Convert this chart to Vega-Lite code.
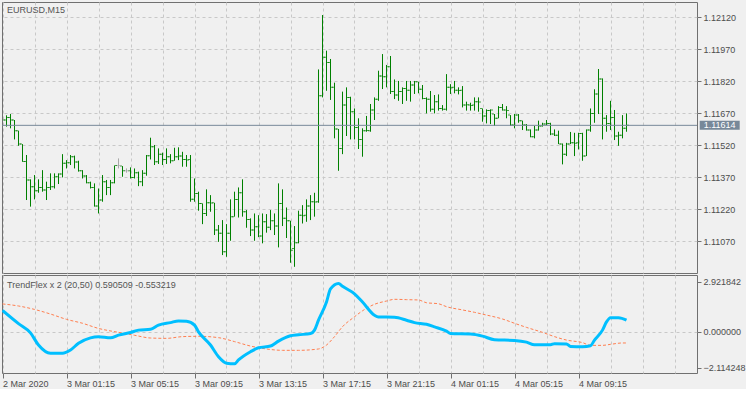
{
  "$schema": "https://vega.github.io/schema/vega-lite/v6.json",
  "background": "#f0f0f0",
  "padding": {"left": 1, "top": 1, "right": 0, "bottom": 0},
  "autosize": {"type": "pad"},
  "spacing": 2,
  "bounds": "flush",
  "config": {
    "view": {"stroke": "#707070", "strokeWidth": 1},
    "font": "Liberation Sans",
    "axis": {"labelFont": "Liberation Sans", "labelFontSize": 9, "labelColor": "#4d4d4d", "gridColor": "#c8c8c8", "gridDash": [3, 3], "gridWidth": 1, "tickColor": "#707070", "domain": false, "labelOverlap": false}
  },
  "datasets": {
    "bars": [
      {"t":"2020-03-02T21:15Z","c":1.11639},
      {"t":"2020-03-02T21:30Z","o":1.11639,"h":1.11661,"l":1.11608,"c":1.11651},
      {"t":"2020-03-02T21:45Z","o":1.11651,"h":1.11667,"l":1.11600,"c":1.11639},
      {"t":"2020-03-02T22:00Z","o":1.11639,"h":1.11639,"l":1.11548,"c":1.11589},
      {"t":"2020-03-02T22:15Z","o":1.11589,"h":1.11589,"l":1.11518,"c":1.11526},
      {"t":"2020-03-02T22:30Z","o":1.11526,"h":1.11526,"l":1.11443,"c":1.11445},
      {"t":"2020-03-02T22:45Z","o":1.11445,"h":1.11475,"l":1.11264,"c":1.11358},
      {"t":"2020-03-02T23:00Z","o":1.11358,"h":1.11361,"l":1.11233,"c":1.11326},
      {"t":"2020-03-02T23:15Z","o":1.11326,"h":1.11381,"l":1.11267,"c":1.11308},
      {"t":"2020-03-02T23:30Z","o":1.11308,"h":1.11361,"l":1.11298,"c":1.11323},
      {"t":"2020-03-02T23:45Z","o":1.11323,"h":1.11404,"l":1.11303,"c":1.11311},
      {"t":"2020-03-03T00:00Z","o":1.11311,"h":1.11350,"l":1.11264,"c":1.11323},
      {"t":"2020-03-03T00:15Z","o":1.11323,"h":1.11389,"l":1.11311,"c":1.11326},
      {"t":"2020-03-03T00:30Z","o":1.11326,"h":1.11389,"l":1.11318,"c":1.11373},
      {"t":"2020-03-03T00:45Z","o":1.11373,"h":1.11389,"l":1.11339,"c":1.11386},
      {"t":"2020-03-03T01:00Z","o":1.11386,"h":1.11479,"l":1.11370,"c":1.11436},
      {"t":"2020-03-03T01:15Z","o":1.11436,"h":1.11451,"l":1.11412,"c":1.11439},
      {"t":"2020-03-03T01:30Z","o":1.11439,"h":1.11475,"l":1.11428,"c":1.11467},
      {"t":"2020-03-03T01:45Z","o":1.11467,"h":1.11472,"l":1.11412,"c":1.11442},
      {"t":"2020-03-03T02:00Z","o":1.11442,"h":1.11448,"l":1.11397,"c":1.11401},
      {"t":"2020-03-03T02:15Z","o":1.11401,"h":1.11404,"l":1.11365,"c":1.11376},
      {"t":"2020-03-03T02:30Z","o":1.11376,"h":1.11381,"l":1.11342,"c":1.11345},
      {"t":"2020-03-03T02:45Z","o":1.11345,"h":1.11350,"l":1.11318,"c":1.11323},
      {"t":"2020-03-03T03:00Z","o":1.11323,"h":1.11342,"l":1.11233,"c":1.11236},
      {"t":"2020-03-03T03:15Z","o":1.11236,"h":1.11318,"l":1.11201,"c":1.11264},
      {"t":"2020-03-03T03:30Z","o":1.11264,"h":1.11381,"l":1.11256,"c":1.11350},
      {"t":"2020-03-03T03:45Z","o":1.11350,"h":1.11358,"l":1.11287,"c":1.11323},
      {"t":"2020-03-03T04:00Z","o":1.11323,"h":1.11358,"l":1.11287,"c":1.11345},
      {"t":"2020-03-03T04:15Z","o":1.11345,"h":1.11426,"l":1.11342,"c":1.11426},
      {"t":"2020-03-03T04:30Z","o":1.11426,"h":1.11459,"l":1.11412,"c":1.11426,"k":"flat"},
      {"t":"2020-03-03T04:45Z","o":1.11423,"h":1.11423,"l":1.11373,"c":1.11401},
      {"t":"2020-03-03T05:00Z","o":1.11401,"h":1.11412,"l":1.11392,"c":1.11401,"k":"flat"},
      {"t":"2020-03-03T05:15Z","o":1.11401,"h":1.11417,"l":1.11365,"c":1.11370},
      {"t":"2020-03-03T05:30Z","o":1.11370,"h":1.11412,"l":1.11365,"c":1.11392},
      {"t":"2020-03-03T05:45Z","o":1.11392,"h":1.11397,"l":1.11329,"c":1.11350},
      {"t":"2020-03-03T06:00Z","o":1.11350,"h":1.11404,"l":1.11329,"c":1.11389},
      {"t":"2020-03-03T06:15Z","o":1.11389,"h":1.11475,"l":1.11378,"c":1.11472},
      {"t":"2020-03-03T06:30Z","o":1.11472,"h":1.11556,"l":1.11454,"c":1.11514},
      {"t":"2020-03-03T06:45Z","o":1.11514,"h":1.11522,"l":1.11428,"c":1.11443},
      {"t":"2020-03-03T07:00Z","o":1.11443,"h":1.11506,"l":1.11433,"c":1.11479},
      {"t":"2020-03-03T07:15Z","o":1.11479,"h":1.11486,"l":1.11428,"c":1.11454},
      {"t":"2020-03-03T07:30Z","o":1.11454,"h":1.11506,"l":1.11433,"c":1.11467},
      {"t":"2020-03-03T07:45Z","o":1.11467,"h":1.11479,"l":1.11436,"c":1.11448},
      {"t":"2020-03-03T08:00Z","o":1.11448,"h":1.11509,"l":1.11448,"c":1.11467},
      {"t":"2020-03-03T08:15Z","o":1.11467,"h":1.11511,"l":1.11451,"c":1.11470},
      {"t":"2020-03-03T08:30Z","o":1.11470,"h":1.11490,"l":1.11420,"c":1.11454},
      {"t":"2020-03-03T08:45Z","o":1.11454,"h":1.11475,"l":1.11420,"c":1.11452},
      {"t":"2020-03-03T09:00Z","o":1.11454,"h":1.11475,"l":1.11256,"c":1.11268},
      {"t":"2020-03-03T09:15Z","o":1.11268,"h":1.11365,"l":1.11256,"c":1.11295},
      {"t":"2020-03-03T09:30Z","o":1.11295,"h":1.11303,"l":1.11214,"c":1.11248},
      {"t":"2020-03-03T09:45Z","o":1.11248,"h":1.11248,"l":1.11151,"c":1.11201},
      {"t":"2020-03-03T10:00Z","o":1.11201,"h":1.11314,"l":1.11189,"c":1.11251},
      {"t":"2020-03-03T10:15Z","o":1.11251,"h":1.11287,"l":1.11209,"c":1.11250},
      {"t":"2020-03-03T10:30Z","o":1.11251,"h":1.11251,"l":1.11100,"c":1.11123},
      {"t":"2020-03-03T10:45Z","o":1.11123,"h":1.11147,"l":1.11068,"c":1.11108},
      {"t":"2020-03-03T11:00Z","o":1.11108,"h":1.11170,"l":1.11006,"c":1.11022},
      {"t":"2020-03-03T11:15Z","o":1.11022,"h":1.11151,"l":1.10998,"c":1.11108},
      {"t":"2020-03-03T11:30Z","o":1.11108,"h":1.11267,"l":1.11073,"c":1.11186},
      {"t":"2020-03-03T11:45Z","o":1.11186,"h":1.11303,"l":1.11186,"c":1.11267},
      {"t":"2020-03-03T12:00Z","o":1.11267,"h":1.11323,"l":1.11182,"c":1.11298},
      {"t":"2020-03-03T12:15Z","o":1.11298,"h":1.11361,"l":1.11186,"c":1.11209},
      {"t":"2020-03-03T12:30Z","o":1.11209,"h":1.11217,"l":1.11134,"c":1.11173},
      {"t":"2020-03-03T12:45Z","o":1.11173,"h":1.11178,"l":1.11095,"c":1.11123},
      {"t":"2020-03-03T13:00Z","o":1.11123,"h":1.11201,"l":1.11073,"c":1.11139},
      {"t":"2020-03-03T13:15Z","o":1.11139,"h":1.11193,"l":1.11090,"c":1.11095},
      {"t":"2020-03-03T13:30Z","o":1.11095,"h":1.11201,"l":1.11061,"c":1.11162},
      {"t":"2020-03-03T13:45Z","o":1.11162,"h":1.11198,"l":1.11111,"c":1.11136},
      {"t":"2020-03-03T14:00Z","o":1.11136,"h":1.11217,"l":1.11123,"c":1.11167},
      {"t":"2020-03-03T14:15Z","o":1.11167,"h":1.11201,"l":1.11100,"c":1.11142},
      {"t":"2020-03-03T14:30Z","o":1.11142,"h":1.11342,"l":1.11042,"c":1.11248},
      {"t":"2020-03-03T14:45Z","o":1.11248,"h":1.11314,"l":1.11142,"c":1.11178},
      {"t":"2020-03-03T15:00Z","o":1.11178,"h":1.11229,"l":1.11086,"c":1.11167},
      {"t":"2020-03-03T15:15Z","o":1.11167,"h":1.11167,"l":1.10970,"c":1.11029},
      {"t":"2020-03-03T15:30Z","o":1.11037,"h":1.11142,"l":1.10951,"c":1.11064},
      {"t":"2020-03-03T15:45Z","o":1.11064,"h":1.11214,"l":1.11061,"c":1.11193},
      {"t":"2020-03-03T16:00Z","o":1.11193,"h":1.11240,"l":1.11154,"c":1.11190},
      {"t":"2020-03-03T16:15Z","o":1.11193,"h":1.11267,"l":1.11162,"c":1.11236},
      {"t":"2020-03-03T16:30Z","o":1.11236,"h":1.11287,"l":1.11170,"c":1.11256},
      {"t":"2020-03-03T16:45Z","o":1.11256,"h":1.11298,"l":1.11186,"c":1.11255},
      {"t":"2020-03-03T17:00Z","o":1.11256,"h":1.11876,"l":1.11251,"c":1.11753},
      {"t":"2020-03-03T17:15Z","o":1.11753,"h":1.12131,"l":1.11745,"c":1.11933},
      {"t":"2020-03-03T17:30Z","o":1.11933,"h":1.11964,"l":1.11776,"c":1.11909},
      {"t":"2020-03-03T17:45Z","o":1.11909,"h":1.11925,"l":1.11733,"c":1.11792},
      {"t":"2020-03-03T18:00Z","o":1.11792,"h":1.11814,"l":1.11553,"c":1.11597},
      {"t":"2020-03-03T18:15Z","o":1.11597,"h":1.11597,"l":1.11401,"c":1.11506},
      {"t":"2020-03-03T18:30Z","o":1.11506,"h":1.11772,"l":1.11479,"c":1.11709},
      {"t":"2020-03-03T18:45Z","o":1.11709,"h":1.11792,"l":1.11564,"c":1.11745},
      {"t":"2020-03-03T19:00Z","o":1.11745,"h":1.11748,"l":1.11548,"c":1.11678},
      {"t":"2020-03-03T19:15Z","o":1.11678,"h":1.11693,"l":1.11548,"c":1.11604},
      {"t":"2020-03-03T19:30Z","o":1.11604,"h":1.11647,"l":1.11503,"c":1.11548},
      {"t":"2020-03-03T19:45Z","o":1.11548,"h":1.11600,"l":1.11467,"c":1.11589},
      {"t":"2020-03-03T20:00Z","o":1.11589,"h":1.11658,"l":1.11584,"c":1.11590},
      {"t":"2020-03-03T20:15Z","o":1.11589,"h":1.11714,"l":1.11584,"c":1.11686},
      {"t":"2020-03-03T20:30Z","o":1.11686,"h":1.11745,"l":1.11639,"c":1.11736},
      {"t":"2020-03-03T20:45Z","o":1.11736,"h":1.11870,"l":1.11729,"c":1.11845},
      {"t":"2020-03-03T21:00Z","o":1.11845,"h":1.11948,"l":1.11784,"c":1.11842},
      {"t":"2020-03-03T21:15Z","o":1.11842,"h":1.11897,"l":1.11792,"c":1.11889},
      {"t":"2020-03-03T21:30Z","o":1.11889,"h":1.11939,"l":1.11761,"c":1.11772},
      {"t":"2020-03-03T21:45Z","o":1.11772,"h":1.11829,"l":1.11737,"c":1.11756},
      {"t":"2020-03-03T22:00Z","o":1.11756,"h":1.11822,"l":1.11729,"c":1.11772},
      {"t":"2020-03-03T22:15Z","o":1.11772,"h":1.11792,"l":1.11714,"c":1.11787},
      {"t":"2020-03-03T22:30Z","o":1.11787,"h":1.11822,"l":1.11729,"c":1.11779},
      {"t":"2020-03-03T22:45Z","o":1.11779,"h":1.11822,"l":1.11725,"c":1.11803},
      {"t":"2020-03-03T23:00Z","o":1.11803,"h":1.11822,"l":1.11761,"c":1.11818},
      {"t":"2020-03-03T23:15Z","o":1.11818,"h":1.11818,"l":1.11764,"c":1.11783},
      {"t":"2020-03-03T23:30Z","o":1.11783,"h":1.11803,"l":1.11736,"c":1.11740},
      {"t":"2020-03-03T23:45Z","o":1.11740,"h":1.11745,"l":1.11670,"c":1.11736},
      {"t":"2020-03-04T00:00Z","o":1.11736,"h":1.11775,"l":1.11678,"c":1.11689},
      {"t":"2020-03-04T00:15Z","o":1.11689,"h":1.11756,"l":1.11670,"c":1.11725},
      {"t":"2020-03-04T00:30Z","o":1.11725,"h":1.11759,"l":1.11683,"c":1.11693},
      {"t":"2020-03-04T00:45Z","o":1.11693,"h":1.11709,"l":1.11683,"c":1.11689},
      {"t":"2020-03-04T01:00Z","o":1.11689,"h":1.11854,"l":1.11683,"c":1.11792},
      {"t":"2020-03-04T01:15Z","o":1.11792,"h":1.11807,"l":1.11761,"c":1.11790},
      {"t":"2020-03-04T01:30Z","o":1.11792,"h":1.11822,"l":1.11764,"c":1.11779},
      {"t":"2020-03-04T01:45Z","o":1.11779,"h":1.11792,"l":1.11759,"c":1.11777},
      {"t":"2020-03-04T02:00Z","o":1.11779,"h":1.11798,"l":1.11698,"c":1.11709},
      {"t":"2020-03-04T02:15Z","o":1.11709,"h":1.11725,"l":1.11683,"c":1.11711},
      {"t":"2020-03-04T02:30Z","o":1.11709,"h":1.11720,"l":1.11683,"c":1.11707},
      {"t":"2020-03-04T02:45Z","o":1.11709,"h":1.11745,"l":1.11683,"c":1.11725},
      {"t":"2020-03-04T03:00Z","o":1.11725,"h":1.11745,"l":1.11678,"c":1.11723},
      {"t":"2020-03-04T03:15Z","o":1.11693,"h":1.11693,"l":1.11631,"c":1.11658},
      {"t":"2020-03-04T03:30Z","o":1.11658,"h":1.11689,"l":1.11623,"c":1.11683},
      {"t":"2020-03-04T03:45Z","o":1.11683,"h":1.11689,"l":1.11620,"c":1.11686},
      {"t":"2020-03-04T04:00Z","o":1.11667,"h":1.11667,"l":1.11611,"c":1.11647},
      {"t":"2020-03-04T04:15Z","o":1.11647,"h":1.11704,"l":1.11647,"c":1.11698},
      {"t":"2020-03-04T04:30Z","o":1.11698,"h":1.11714,"l":1.11683,"c":1.11686},
      {"t":"2020-03-04T04:45Z","o":1.11686,"h":1.11704,"l":1.11647,"c":1.11684},
      {"t":"2020-03-04T05:00Z","o":1.11662,"h":1.11662,"l":1.11611,"c":1.11615},
      {"t":"2020-03-04T05:15Z","o":1.11615,"h":1.11667,"l":1.11600,"c":1.11662},
      {"t":"2020-03-04T05:30Z","o":1.11662,"h":1.11667,"l":1.11626,"c":1.11636},
      {"t":"2020-03-04T05:45Z","o":1.11636,"h":1.11636,"l":1.11592,"c":1.11615},
      {"t":"2020-03-04T06:00Z","o":1.11615,"h":1.11620,"l":1.11589,"c":1.11592},
      {"t":"2020-03-04T06:15Z","o":1.11592,"h":1.11595,"l":1.11558,"c":1.11561},
      {"t":"2020-03-04T06:30Z","o":1.11561,"h":1.11611,"l":1.11553,"c":1.11592},
      {"t":"2020-03-04T06:45Z","o":1.11592,"h":1.11636,"l":1.11589,"c":1.11611},
      {"t":"2020-03-04T07:00Z","o":1.11611,"h":1.11626,"l":1.11608,"c":1.11620},
      {"t":"2020-03-04T07:15Z","o":1.11620,"h":1.11639,"l":1.11615,"c":1.11623},
      {"t":"2020-03-04T07:30Z","o":1.11623,"h":1.11626,"l":1.11568,"c":1.11573},
      {"t":"2020-03-04T07:45Z","o":1.11573,"h":1.11595,"l":1.11564,"c":1.11568},
      {"t":"2020-03-04T08:00Z","o":1.11568,"h":1.11589,"l":1.11526,"c":1.11526},
      {"t":"2020-03-04T08:15Z","o":1.11526,"h":1.11529,"l":1.11431,"c":1.11479},
      {"t":"2020-03-04T08:30Z","o":1.11479,"h":1.11532,"l":1.11470,"c":1.11526},
      {"t":"2020-03-04T08:45Z","o":1.11526,"h":1.11583,"l":1.11526,"c":1.11532},
      {"t":"2020-03-04T09:00Z","o":1.11532,"h":1.11579,"l":1.11470,"c":1.11530},
      {"t":"2020-03-04T09:15Z","o":1.11532,"h":1.11579,"l":1.11501,"c":1.11576},
      {"t":"2020-03-04T09:30Z","o":1.11576,"h":1.11579,"l":1.11448,"c":1.11470},
      {"t":"2020-03-04T09:45Z","o":1.11470,"h":1.11595,"l":1.11470,"c":1.11592},
      {"t":"2020-03-04T10:00Z","o":1.11592,"h":1.11693,"l":1.11584,"c":1.11670},
      {"t":"2020-03-04T10:15Z","o":1.11670,"h":1.11783,"l":1.11626,"c":1.11761},
      {"t":"2020-03-04T10:30Z","o":1.11761,"h":1.11878,"l":1.11667,"c":1.11831},
      {"t":"2020-03-04T10:45Z","o":1.11831,"h":1.11834,"l":1.11548,"c":1.11647},
      {"t":"2020-03-04T11:00Z","o":1.11647,"h":1.11662,"l":1.11584,"c":1.11623},
      {"t":"2020-03-04T11:15Z","o":1.11623,"h":1.11729,"l":1.11592,"c":1.11651},
      {"t":"2020-03-04T11:30Z","o":1.11651,"h":1.11686,"l":1.11545,"c":1.11564},
      {"t":"2020-03-04T11:45Z","o":1.11564,"h":1.11584,"l":1.11518,"c":1.11568},
      {"t":"2020-03-04T12:00Z","o":1.11568,"h":1.11662,"l":1.11553,"c":1.11600},
      {"t":"2020-03-04T12:15Z","o":1.11600,"h":1.11670,"l":1.11584,"c":1.11614}
    ],
    "tf": [
      {"t":"2020-03-02T21:15Z","v":1.24},{"t":"2020-03-02T22:15Z","v":0.47},{"t":"2020-03-02T23:00Z","v":-0.07},{"t":"2020-03-02T23:30Z","v":-0.78},
      {"t":"2020-03-03T00:15Z","v":-1.26},{"t":"2020-03-03T01:00Z","v":-1.26},{"t":"2020-03-03T01:30Z","v":-1.07},{"t":"2020-03-03T02:00Z","v":-0.68},
      {"t":"2020-03-03T02:45Z","v":-0.36},{"t":"2020-03-03T03:15Z","v":-0.30},{"t":"2020-03-03T04:00Z","v":-0.36},{"t":"2020-03-03T04:30Z","v":-0.20},
      {"t":"2020-03-03T05:15Z","v":-0.05},{"t":"2020-03-03T05:45Z","v":0.09},{"t":"2020-03-03T06:30Z","v":0.14},{"t":"2020-03-03T07:00Z","v":0.38},
      {"t":"2020-03-03T07:45Z","v":0.53},{"t":"2020-03-03T08:15Z","v":0.63},{"t":"2020-03-03T08:45Z","v":0.61},{"t":"2020-03-03T09:15Z","v":0.38},
      {"t":"2020-03-03T09:30Z","v":-0.01},{"t":"2020-03-03T10:15Z","v":-0.78},{"t":"2020-03-03T10:45Z","v":-1.46},{"t":"2020-03-03T11:15Z","v":-1.84},
      {"t":"2020-03-03T11:45Z","v":-1.88},{"t":"2020-03-03T12:00Z","v":-1.65},{"t":"2020-03-03T12:45Z","v":-1.17},{"t":"2020-03-03T13:15Z","v":-0.94},
      {"t":"2020-03-03T14:00Z","v":-0.84},{"t":"2020-03-03T14:30Z","v":-0.55},{"t":"2020-03-03T15:15Z","v":-0.24},{"t":"2020-03-03T15:45Z","v":-0.18},
      {"t":"2020-03-03T16:30Z","v":-0.11},{"t":"2020-03-03T16:45Z","v":0.09},{"t":"2020-03-03T17:00Z","v":0.67},{"t":"2020-03-03T17:30Z","v":1.73},
      {"t":"2020-03-03T17:45Z","v":2.50},{"t":"2020-03-03T18:15Z","v":2.82},{"t":"2020-03-03T18:30Z","v":2.65},{"t":"2020-03-03T19:15Z","v":2.21},
      {"t":"2020-03-03T19:45Z","v":1.73},{"t":"2020-03-03T20:30Z","v":0.96},{"t":"2020-03-03T20:45Z","v":0.86},{"t":"2020-03-03T21:45Z","v":0.84},
      {"t":"2020-03-03T22:30Z","v":0.67},{"t":"2020-03-03T23:00Z","v":0.53},{"t":"2020-03-03T23:45Z","v":0.43},{"t":"2020-03-04T00:15Z","v":0.28},
      {"t":"2020-03-04T01:00Z","v":0.03},{"t":"2020-03-04T01:15Z","v":-0.11},{"t":"2020-03-04T02:30Z","v":-0.14},{"t":"2020-03-04T03:15Z","v":-0.26},
      {"t":"2020-03-04T04:00Z","v":-0.47},{"t":"2020-03-04T05:15Z","v":-0.51},{"t":"2020-03-04T06:00Z","v":-0.61},{"t":"2020-03-04T06:30Z","v":-0.76},
      {"t":"2020-03-04T07:30Z","v":-0.76},{"t":"2020-03-04T07:45Z","v":-0.70},{"t":"2020-03-04T08:30Z","v":-0.72},{"t":"2020-03-04T08:45Z","v":-0.86},
      {"t":"2020-03-04T09:30Z","v":-0.88},{"t":"2020-03-04T10:00Z","v":-0.82},{"t":"2020-03-04T10:15Z","v":-0.49},{"t":"2020-03-04T10:45Z","v":0.09},
      {"t":"2020-03-04T11:00Z","v":0.57},{"t":"2020-03-04T11:15Z","v":0.82},{"t":"2020-03-04T11:45Z","v":0.82},{"t":"2020-03-04T12:15Z","v":0.67}
    ],
    "sg": [
      {"t":"2020-03-02T21:15Z","v":1.62},{"t":"2020-03-02T22:15Z","v":1.50},{"t":"2020-03-02T23:15Z","v":1.30},{"t":"2020-03-03T00:15Z","v":1.03},
      {"t":"2020-03-03T01:15Z","v":0.72},{"t":"2020-03-03T02:15Z","v":0.49},{"t":"2020-03-03T03:15Z","v":0.19},{"t":"2020-03-03T04:30Z","v":-0.04},
      {"t":"2020-03-03T05:30Z","v":-0.21},{"t":"2020-03-03T06:30Z","v":-0.37},{"t":"2020-03-03T07:30Z","v":-0.39},{"t":"2020-03-03T08:30Z","v":-0.29},
      {"t":"2020-03-03T09:30Z","v":-0.27},{"t":"2020-03-03T10:45Z","v":-0.35},{"t":"2020-03-03T11:45Z","v":-0.58},{"t":"2020-03-03T12:45Z","v":-0.84},
      {"t":"2020-03-03T13:45Z","v":-1.01},{"t":"2020-03-03T14:45Z","v":-1.09},{"t":"2020-03-03T15:45Z","v":-1.09},{"t":"2020-03-03T17:00Z","v":-1.01},
      {"t":"2020-03-03T17:30Z","v":-0.78},{"t":"2020-03-03T18:00Z","v":-0.29},{"t":"2020-03-03T18:30Z","v":0.29},{"t":"2020-03-03T19:15Z","v":0.87},
      {"t":"2020-03-03T19:45Z","v":1.22},{"t":"2020-03-03T20:30Z","v":1.60},{"t":"2020-03-03T21:15Z","v":1.79},{"t":"2020-03-03T21:45Z","v":1.89},
      {"t":"2020-03-03T22:30Z","v":1.87},{"t":"2020-03-03T23:15Z","v":1.85},{"t":"2020-03-03T23:45Z","v":1.69},{"t":"2020-03-04T00:30Z","v":1.63},
      {"t":"2020-03-04T01:00Z","v":1.46},{"t":"2020-03-04T02:00Z","v":1.27},{"t":"2020-03-04T02:45Z","v":1.13},{"t":"2020-03-04T03:30Z","v":0.97},
      {"t":"2020-03-04T04:30Z","v":0.74},{"t":"2020-03-04T05:15Z","v":0.49},{"t":"2020-03-04T06:00Z","v":0.25},{"t":"2020-03-04T07:00Z","v":-0.04},
      {"t":"2020-03-04T07:45Z","v":-0.29},{"t":"2020-03-04T08:30Z","v":-0.49},{"t":"2020-03-04T09:30Z","v":-0.64},{"t":"2020-03-04T10:00Z","v":-0.80},
      {"t":"2020-03-04T10:45Z","v":-0.80},{"t":"2020-03-04T11:15Z","v":-0.74},{"t":"2020-03-04T12:00Z","v":-0.66},{"t":"2020-03-04T12:15Z","v":-0.66}
    ],
    "last": [{"p": 1.11614, "lbl": "1.11614"}]
  },
  "vconcat": [
    {
      "width": 695,
      "height": 271,
      "title": {"text": "EURUSD,M15", "anchor": "start", "frame": "group", "orient": "top", "offset": -13, "dx": 5, "fontSize": 9, "font": "Liberation Sans", "fontWeight": "normal", "color": "#555555"},
      "layer": [
        {
          "data": {"name": "bars"},
          "mark": {"type": "rule", "strokeWidth": 1},
          "encoding": {
            "x": {"field": "t", "type": "temporal",
              "scale": {"type": "utc", "domain": [{"year": 2020, "month": 3, "date": 2, "hours": 21, "minutes": 13, "seconds": 7, "milliseconds": 500, "utc": true}, {"year": 2020, "month": 3, "date": 4, "hours": 16, "minutes": 39, "seconds": 22, "milliseconds": 500, "utc": true}]},
              "axis": {"title": null, "labels": false, "ticks": false, "domain": false, "grid": true, "tickCount": 40,
                "values": [
                  {"year":2020,"month":3,"date":2,"hours":21,"minutes":15,"utc":true},{"year":2020,"month":3,"date":2,"hours":23,"minutes":15,"utc":true},
                  {"year":2020,"month":3,"date":3,"hours":1,"minutes":15,"utc":true},{"year":2020,"month":3,"date":3,"hours":3,"minutes":15,"utc":true},
                  {"year":2020,"month":3,"date":3,"hours":5,"minutes":15,"utc":true},{"year":2020,"month":3,"date":3,"hours":7,"minutes":15,"utc":true},
                  {"year":2020,"month":3,"date":3,"hours":9,"minutes":15,"utc":true},{"year":2020,"month":3,"date":3,"hours":11,"minutes":15,"utc":true},
                  {"year":2020,"month":3,"date":3,"hours":13,"minutes":15,"utc":true},{"year":2020,"month":3,"date":3,"hours":15,"minutes":15,"utc":true},
                  {"year":2020,"month":3,"date":3,"hours":17,"minutes":15,"utc":true},{"year":2020,"month":3,"date":3,"hours":19,"minutes":15,"utc":true},
                  {"year":2020,"month":3,"date":3,"hours":21,"minutes":15,"utc":true},{"year":2020,"month":3,"date":3,"hours":23,"minutes":15,"utc":true},
                  {"year":2020,"month":3,"date":4,"hours":1,"minutes":15,"utc":true},{"year":2020,"month":3,"date":4,"hours":3,"minutes":15,"utc":true},
                  {"year":2020,"month":3,"date":4,"hours":5,"minutes":15,"utc":true},{"year":2020,"month":3,"date":4,"hours":7,"minutes":15,"utc":true},
                  {"year":2020,"month":3,"date":4,"hours":9,"minutes":15,"utc":true},{"year":2020,"month":3,"date":4,"hours":11,"minutes":15,"utc":true},
                  {"year":2020,"month":3,"date":4,"hours":13,"minutes":15,"utc":true},{"year":2020,"month":3,"date":4,"hours":15,"minutes":15,"utc":true}
                ]}},
            "y": {"field": "l", "type": "quantitative",
              "scale": {"domain": [1.10922, 1.12192], "zero": false, "nice": false},
              "axis": {"title": null, "orient": "right", "values": [1.1212, 1.1197, 1.1182, 1.1167, 1.1152, 1.1137, 1.1122, 1.1107], "tickCount": 20, "format": ".5f", "grid": true, "tickSize": 4, "labelPadding": 2, "labelAlign": "left", "labelOverlap": false}},
            "y2": {"field": "h"},
            "color": {"condition": {"test": "datum.k == 'flat'", "value": "#a8a8a8"}, "value": "#008000"}
          }
        },
        {
          "data": {"name": "bars"},
          "mark": {"type": "tick", "orient": "horizontal", "size": 2, "thickness": 1, "xOffset": -1.5},
          "encoding": {
            "x": {"field": "t", "type": "temporal"},
            "y": {"field": "o", "type": "quantitative"},
            "color": {"condition": {"test": "datum.k == 'flat'", "value": "#a8a8a8"}, "value": "#008000"}
          }
        },
        {
          "data": {"name": "bars"},
          "mark": {"type": "tick", "orient": "horizontal", "size": 2, "thickness": 1, "xOffset": 1.5},
          "encoding": {
            "x": {"field": "t", "type": "temporal"},
            "y": {"field": "c", "type": "quantitative"},
            "color": {"condition": {"test": "datum.k == 'flat'", "value": "#a8a8a8"}, "value": "#008000"}
          }
        },
        {
          "data": {"name": "last"},
          "mark": {"type": "rule", "color": "#778899", "strokeWidth": 1, "clip": true},
          "encoding": {"y": {"field": "p", "type": "quantitative"}}
        },
        {
          "data": {"name": "last"},
          "mark": {"type": "rect", "width": 40, "height": 9, "color": "#778899"},
          "encoding": {
            "x": {"datum": {"year": 2020, "month": 3, "date": 4, "hours": 18, "minutes": 4, "seconds": 30, "utc": true}, "type": "temporal"},
            "y": {"field": "p", "type": "quantitative"}
          }
        },
        {
          "data": {"name": "last"},
          "mark": {"type": "text", "color": "#ffffff", "fontSize": 9, "font": "Liberation Sans", "align": "center", "baseline": "middle"},
          "encoding": {
            "x": {"datum": {"year": 2020, "month": 3, "date": 4, "hours": 18, "minutes": 4, "seconds": 30, "utc": true}, "type": "temporal"},
            "y": {"field": "p", "type": "quantitative"},
            "text": {"field": "lbl"}
          }
        }
      ]
    },
    {
      "width": 695,
      "height": 98,
      "title": {"text": "TrendFlex x 2 (20,50) 0.590509 -0.553219", "anchor": "start", "frame": "group", "orient": "top", "offset": -15, "dx": 5, "fontSize": 9, "font": "Liberation Sans", "fontWeight": "normal", "color": "#555555"},
      "layer": [
        {
          "data": {"name": "sg"},
          "mark": {"type": "line", "color": "#ff7f50", "strokeWidth": 1, "strokeDash": [3, 2], "interpolate": "monotone", "strokeJoin": "round", "clip": true},
          "encoding": {
            "x": {"field": "t", "type": "temporal",
              "scale": {"type": "utc", "domain": [{"year": 2020, "month": 3, "date": 2, "hours": 21, "minutes": 13, "seconds": 7, "milliseconds": 500, "utc": true}, {"year": 2020, "month": 3, "date": 4, "hours": 16, "minutes": 39, "seconds": 22, "milliseconds": 500, "utc": true}]},
              "axis": {"title": null, "domain": false, "grid": true, "tickCount": 40, "tickSize": 5, "labelPadding": 1, "labelAlign": "left", "labelFlush": false, "labelOverlap": false, "labelBound": false,
                "tickOpacity": {"condition": {"test": "utchours(datum.value) % 4 == 1 && !(utcdate(datum.value) == 4 && utchours(datum.value) > 12)", "value": 1}, "value": 0},
                "labelExpr": "(utchours(datum.value) % 4 != 1 || (utcdate(datum.value) == 4 && utchours(datum.value) > 12)) ? '' : (utcdate(datum.value) == 2 ? '2 Mar 2020' : utcFormat(datum.value, '%-d %b %H:%M'))",
                "values": [
                  {"year":2020,"month":3,"date":2,"hours":21,"minutes":15,"utc":true},{"year":2020,"month":3,"date":2,"hours":23,"minutes":15,"utc":true},
                  {"year":2020,"month":3,"date":3,"hours":1,"minutes":15,"utc":true},{"year":2020,"month":3,"date":3,"hours":3,"minutes":15,"utc":true},
                  {"year":2020,"month":3,"date":3,"hours":5,"minutes":15,"utc":true},{"year":2020,"month":3,"date":3,"hours":7,"minutes":15,"utc":true},
                  {"year":2020,"month":3,"date":3,"hours":9,"minutes":15,"utc":true},{"year":2020,"month":3,"date":3,"hours":11,"minutes":15,"utc":true},
                  {"year":2020,"month":3,"date":3,"hours":13,"minutes":15,"utc":true},{"year":2020,"month":3,"date":3,"hours":15,"minutes":15,"utc":true},
                  {"year":2020,"month":3,"date":3,"hours":17,"minutes":15,"utc":true},{"year":2020,"month":3,"date":3,"hours":19,"minutes":15,"utc":true},
                  {"year":2020,"month":3,"date":3,"hours":21,"minutes":15,"utc":true},{"year":2020,"month":3,"date":3,"hours":23,"minutes":15,"utc":true},
                  {"year":2020,"month":3,"date":4,"hours":1,"minutes":15,"utc":true},{"year":2020,"month":3,"date":4,"hours":3,"minutes":15,"utc":true},
                  {"year":2020,"month":3,"date":4,"hours":5,"minutes":15,"utc":true},{"year":2020,"month":3,"date":4,"hours":7,"minutes":15,"utc":true},
                  {"year":2020,"month":3,"date":4,"hours":9,"minutes":15,"utc":true},{"year":2020,"month":3,"date":4,"hours":11,"minutes":15,"utc":true},
                  {"year":2020,"month":3,"date":4,"hours":13,"minutes":15,"utc":true},{"year":2020,"month":3,"date":4,"hours":15,"minutes":15,"utc":true}
                ]}},
            "y": {"field": "v", "type": "quantitative",
              "scale": {"domain": [-2.414, 3.31], "zero": false, "nice": false},
              "axis": {"title": null, "orient": "right", "values": [-2.114248, 0, 2.921842], "tickCount": 20, "format": ".6f", "grid": true, "gridOpacity": {"condition": {"test": "datum.value == 0", "value": 1}, "value": 0}, "tickSize": 4, "labelPadding": 2, "labelAlign": "left", "labelOverlap": false}}
          }
        },
        {
          "data": {"name": "tf"},
          "mark": {"type": "line", "color": "#00bfff", "strokeWidth": 3, "interpolate": "monotone", "strokeJoin": "round", "clip": true},
          "encoding": {
            "x": {"field": "t", "type": "temporal"},
            "y": {"field": "v", "type": "quantitative"}
          }
        }
      ]
    }
  ]
}
